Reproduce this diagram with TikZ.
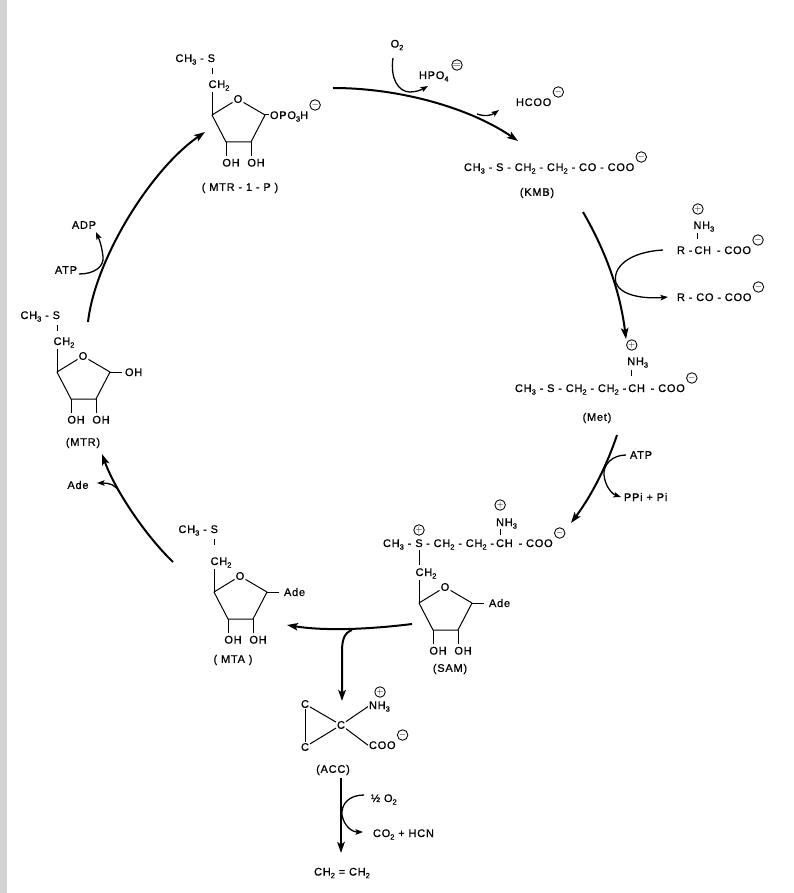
\documentclass[tikz,border=0pt]{standalone}
\usepackage{fontspec}
\setmainfont{Liberation Sans}[LetterSpace=7,FakeBold=0.8]
\usetikzlibrary{arrows.meta,calc}
\newcommand{\sbs}[1]{\raisebox{-2.6pt}{\fontsize{7.5}{8}\selectfont #1}}
\newcommand{\sugarring}[3]{%
  \coordinate (#1c4) at (#2,#3);
  \coordinate (#1oc) at ($(#1c4)+(26,-16)$);
  \node[txt] (#1o) at (#1oc) {O};
  \coordinate (#1c1) at ($(#1c4)+(53,0)$);
  \coordinate (#1c3) at ($(#1c4)+(14,27)$);
  \coordinate (#1c2) at ($(#1c4)+(39,27)$);
  \draw[bond, line join=round] ($(#1oc)+(-5.5,3.4)$) -- (#1c4) -- (#1c3) -- (#1c2) -- (#1c1) -- ($(#1oc)+(5.5,3.4)$);
  \draw[bond] (#1c3) -- ++(0,14);
  \draw[bond] (#1c2) -- ++(0,14);
  \node[txt, anchor=base west] (#1oha) at ($(#1c3)+(-4.6,24.5)$) {OH};
  \node[txt, anchor=base west] (#1ohb) at ($(#1c2)+(-4.6,24.5)$) {OH};
  \draw[bond] (#1c4) -- ++(0,-23);
  \node[txt, anchor=base west] (#1ch) at ($(#1c4)+(-4.4,-27)$) {CH\sbs{2}};
}
\newcommand{\chargeat}[3]{\node[chg] (#1) at ($(#2.base east)+(6,-14)$) {#3};}
\begin{document}
\begin{tikzpicture}[x=1pt,y=-1pt,
  txt/.style={inner sep=0.8pt, font=\fontsize{11}{13}\selectfont},
  bond/.style={line width=1pt},
  main/.style={line width=2pt, -{Stealth[length=11pt,width=7.5pt,inset=2.5pt]}},
  side/.style={line width=1.3pt, -{Stealth[length=7.5pt,width=5.5pt,inset=1.5pt]}},
  chg/.style={circle, draw, line width=0.85pt, minimum size=10.5pt, inner sep=0pt, font=\fontsize{9}{9}\selectfont},
]
\path[use as bounding box] (0,0) rectangle (793,893);
\fill[gray!35] (0,0) rectangle (7,893);

% ---------- MTR-1-P ----------
\sugarring{a}{212}{115}
\node[txt, anchor=base east] (aS) at (216,62) {CH\sbs{3} - S};
\draw[bond] (212,68) -- (212,74);
\draw[bond] (ac1) -- ++(4,0);
\node[txt, anchor=base west] (aopo) at ($(ac1)+(4,4)$) {OPO\sbs{3}H};
\chargeat{achg}{aopo}{$-$}
\node[txt] (alab) at (240,188) {( MTR - 1 - P )};

% ---------- KMB ----------
\node[txt, anchor=base west] (kmb) at (463,171) {CH\sbs{3} - S - CH\sbs{2} - CH\sbs{2} - CO - COO};
\chargeat{kchg}{kmb}{$-$}
\node[txt] (klab) at (537,193) {(KMB)};
\node[txt] (o2a) at (397,45) {O\sbs{2}};
\node[txt, anchor=base west] (hpo) at (418,79) {HPO\sbs{4}};
\node[chg, font=\fontsize{11}{11}\selectfont] (hchg) at (457,65) {$=$};
\node[txt, anchor=base west] (hcoo) at (515,106) {HCOO};
\chargeat{fchg}{hcoo}{$-$}

% ---------- amino donor ----------
\node[txt, anchor=base west] (r1) at (676,254) {R -~};
\node[txt, anchor=base west] (rCH) at (r1.base east) {CH};
\node[txt, anchor=base west] (rcoo) at (rCH.base east) {~- COO};
\chargeat{rchg}{rcoo}{$-$}
\node[txt, anchor=base west] (rnh) at ($(rCH.base west)+(-1,-25)$) {NH\sbs{3}};
\node[chg] (rplus) at ($(rCH.base west)+(4.5,-45)$) {$+$};
\draw[bond] ($(rCH.base west)+(4.5,-15)$) -- ++(0,-6);
\node[txt, anchor=base west] (rko) at (676,301) {R - CO - COO};
\chargeat{rkchg}{rko}{$-$}

% ---------- Met ----------
\node[txt, anchor=base west] (m1) at (514,392) {CH\sbs{3} - S - CH\sbs{2} - CH\sbs{2} -~};
\node[txt, anchor=base west] (mCH) at (m1.base east) {CH};
\node[txt, anchor=base west] (mcoo) at (mCH.base east) {~- COO};
\chargeat{mchg}{mcoo}{$-$}
\node[txt, anchor=base west] (mnh) at ($(mCH.base west)+(-1,-27)$) {NH\sbs{3}};
\node[chg] (mplus) at ($(mCH.base west)+(4.5,-47)$) {$+$};
\draw[bond] ($(mCH.base west)+(4.5,-16)$) -- ++(0,-6);
\node[txt] (mlab) at (597,418) {(Met)};
\node[txt] (atp2) at (641,455) {ATP};
\node[txt, anchor=base west] (ppi) at (623,501) {PPi + Pi};

% ---------- SAM ----------
\sugarring{d}{419}{603}
\node[txt, anchor=base] (dS) at (419,547) {S};
\node[txt, anchor=base east] (dch3) at (dS.base west) {CH\sbs{3} -\kern2pt};
\node[txt, anchor=base west] (dmid) at (dS.base east) {\kern1.5pt- CH\sbs{2} - CH\sbs{2} -~};
\node[txt, anchor=base west] (dCH) at (dmid.base east) {CH};
\node[txt, anchor=base west] (dcoo) at (dCH.base east) {~- COO};
\chargeat{dchg}{dcoo}{$-$}
\node[chg] (dsplus) at (419,530) {$+$};
\node[txt, anchor=base west] (dnh) at ($(dCH.base west)+(0,-21)$) {NH\sbs{3}};
\node[chg] (dplus) at ($(dCH.base west)+(5,-42)$) {$+$};
\draw[bond] ($(dCH.base west)+(5,-12)$) -- ++(0,-6);
\draw[bond] (419,550) -- (419,565);
\draw[bond] (dc1) -- ++(12,0);
\node[txt, anchor=base west] (dade) at ($(dc1)+(16,4)$) {Ade};
\node[txt] (dlab) at (450,669) {(SAM)};

% ---------- MTA ----------
\sugarring{c}{214}{592}
\node[txt, anchor=base east] (cS) at (219,533) {CH\sbs{3} - S};
\draw[bond] (214,539) -- (214,545);
\draw[bond] (cc1) -- ++(12,0);
\node[txt, anchor=base west] (cade) at ($(cc1)+(16,4)$) {Ade};
\node[txt] (clab) at (233,660) {( MTA )};

% ---------- MTR ----------
\sugarring{b}{57}{372}
\node[txt, anchor=base east] (bS) at (61,319) {CH\sbs{3} - S};
\draw[bond] (57,325) -- (57,331);
\draw[bond] (bc1) -- ++(12,0);
\node[txt, anchor=base west] (boh) at ($(bc1)+(14,4)$) {OH};
\node[txt] (blab) at (83,443) {(MTR)};
\node[txt] (atp1) at (66,270) {ATP};
\node[txt] (adp) at (84,225) {ADP};
\node[txt] (ade1) at (78,485) {Ade};

% ---------- ACC ----------
\node[txt] (eC1) at (305,704) {C};
\node[txt] (eC2) at (305,747) {C};
\node[txt] (eC) at (341,725) {C};
\node[txt, anchor=base west] (enh) at (368,709) {NH\sbs{3}};
\node[txt, anchor=base west] (ecoo) at (368,749) {COO};
\draw[bond] (eC1) -- (eC2);
\draw[bond] (eC1) -- (eC);
\draw[bond] (eC2) -- (eC);
\draw[bond] (eC) -- (enh.west);
\draw[bond] (eC) -- (ecoo.west);
\node[chg] (eplus) at (380,692) {$+$};
\chargeat{echg}{ecoo}{$-$}
\node[txt] (elab) at (333,770) {(ACC)};
\node[txt, anchor=base west] (halfo) at (370,802) {½ O\sbs{2}};
\node[txt, anchor=base west] (co2) at (372,837) {CO\sbs{2} + HCN};
\node[txt] (eth) at (342,873) {CH\sbs{2} = CH\sbs{2}};

% ---------- arrows ----------
% MTR-1-P -> KMB
\coordinate (p1s) at (333,88); \coordinate (p1e) at (518,141);
\draw[main] (p1s) .. controls (400,88) and (470,108) .. (p1e);
\coordinate (o2s) at (393,58); \coordinate (o2m) at (410,92); \coordinate (o2e) at (428,86);
\draw[side] (o2s) .. controls (390,78) and (398,92) .. (o2m) .. controls (416,92) and (421,90) .. (o2e);
\coordinate (hcs) at (477,114); \coordinate (hce) at (499,110);
\draw[side] (hcs) .. controls (486,117) and (492,115) .. (hce);
% KMB -> Met
\coordinate (p2s) at (583,212); \coordinate (p2e) at (626,339);
\draw[main] (p2s) .. controls (605,250) and (620,290) .. (p2e);
\coordinate (tas) at (663,250); \coordinate (tam) at (616,283); \coordinate (tae) at (668,297);
\draw[side] (tas) .. controls (628,252) and (612,268) .. (tam) .. controls (621,296) and (645,299) .. (tae);
% Met -> SAM
\coordinate (p3s) at (617,435); \coordinate (p3e) at (571,523);
\draw[main] (p3s) .. controls (607,465) and (592,495) .. (p3e);
\coordinate (ats) at (626,455); \coordinate (atm) at (604,475); \coordinate (ate) at (621,497);
\draw[side] (ats) .. controls (612,455) and (603,465) .. (atm) .. controls (605,486) and (612,494) .. (ate);
% SAM -> MTA
\coordinate (p4s) at (412,624); \coordinate (p4e) at (287,625);
\draw[main] (p4s) .. controls (380,628) and (330,632) .. (p4e);
\coordinate (p5s) at (352,630); \coordinate (p5e) at (342,701);
\draw[main] (p5s) .. controls (344,633) and (342,640) .. (342,652) -- (p5e);
% MTA -> MTR
\coordinate (p6s) at (173,562); \coordinate (p6e) at (102,454);
\draw[main] (p6s) .. controls (145,535) and (115,490) .. (p6e);
\coordinate (ads) at (120,493); \coordinate (ade) at (97,483);
\draw[side] (ads) .. controls (116,485) and (110,483) .. (ade);
% MTR -> MTR-1-P
\coordinate (p7s) at (88,322); \coordinate (p7e) at (205,132);
\draw[main] (p7s) .. controls (95,260) and (150,170) .. (p7e);
\coordinate (aps) at (79,274); \coordinate (apm) at (103,257); \coordinate (ape) at (96,232);
\draw[side] (aps) .. controls (94,274) and (104,267) .. (apm) .. controls (102,246) and (99,239) .. (ape);
% ACC -> ethylene
\coordinate (p8s) at (341,778); \coordinate (p8e) at (341,853);
\draw[main] (p8s) -- (p8e);
\coordinate (hos) at (364,795); \coordinate (hom) at (342,815); \coordinate (hoe) at (363,832);
\draw[side] (hos) .. controls (349,795) and (341,804) .. (hom) .. controls (344,826) and (352,832) .. (hoe);
\end{tikzpicture}
\end{document}
